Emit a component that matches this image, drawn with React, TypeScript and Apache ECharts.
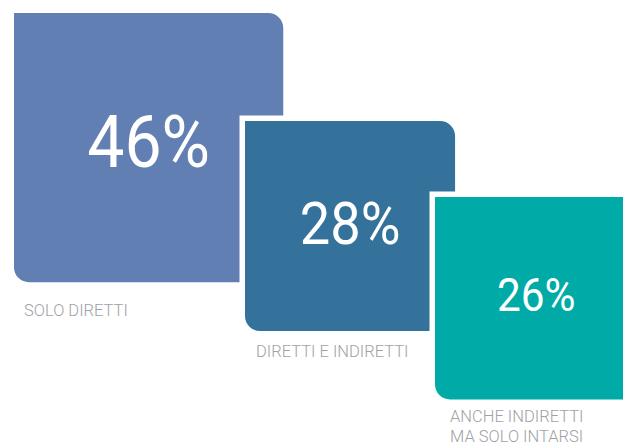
import React, { useEffect, useRef } from "react";
import * as echarts from "echarts";

// ---- data ----
const categories: string[] = ["SOLO DIRETTI", "DIRETTI E INDIRETTI", "ANCHE INDIRETTI\nMA SOLO INTARSI"];
const values: number[] = [46, 28, 26];

// ---- styles / layout ----
const colors: string[] = ["#617fb3", "#35729b", "#00aba7"];
const squareOrigins: [number, number][] = [[14, 13], [245, 121], [435, 197]];
const pxPerSqrtUnit = 39.7; // square area proportional to the value
const percentFontSizes: number[] = [72, 59, 46];
const percentDy: number[] = [-5.5, -2.5, -3];
const labelOffsets: [number, number][] = [[10, 28], [11, 20], [15, 17.5]];
const cornerR = 15;
const gap = 5.5;

export default function App() {
  const ref = useRef<HTMLDivElement>(null);
  useEffect(() => {
    document.body.style.margin = "0";
    const chart = echarts.init(ref.current!, undefined, { renderer: "svg" });
    chart.setOption({
      animation: false,
      backgroundColor: "#ffffff",
      series: [
        {
          type: "custom",
          coordinateSystem: "none",
          data: values.map((v, i) => ({ value: [v], name: categories[i] })),
          renderItem: (params: any, api: any) => {
            const i = params.dataIndex;
            const v = api.value(0) as number;
            const side = pxPerSqrtUnit * Math.sqrt(v);
            const [x, y] = squareOrigins[i];
            const children: any[] = [];
            if (i > 0) {
              children.push({
                type: "rect",
                shape: { x: x - gap, y: y - gap, width: side + 2 * gap, height: side + 2 * gap, r: [0, cornerR + gap, cornerR + gap, cornerR + gap] },
                style: { fill: "#ffffff" },
              });
            }
            children.push({
              type: "rect",
              shape: { x, y, width: side, height: side, r: [0, cornerR, cornerR, cornerR] },
              style: { fill: colors[i] },
            });
            children.push({
              type: "text",
              x: x + side / 2,
              y: y + side / 2 + percentDy[i],
              scaleX: 0.92,
              style: {
                text: v + "%",
                x: 0,
                y: 0,
                fill: "#ffffff",
                fontSize: percentFontSizes[i],
                fontFamily: "Roboto",
                fontWeight: 400,
                align: "center",
                verticalAlign: "middle",
              },
            });
            const lines = categories[i].split("\n");
            lines.forEach((ln, j) => {
              children.push({
                type: "text",
                style: {
                  text: ln,
                  x: x + labelOffsets[i][0],
                  y: y + side + labelOffsets[i][1] + j * 20,
                  fill: "#9ea2a7",
                  fontSize: 16.5,
                  fontFamily: "Roboto",
                  fontWeight: 300,
                  align: "left",
                  verticalAlign: "middle",
                },
              });
            });
            return { type: "group", children };
          },
        },
      ],
    });
    return () => chart.dispose();
  }, []);
  return <div ref={ref} style={{ position: "fixed", left: 0, top: 0, width: 623, height: 446 }} />;
}
